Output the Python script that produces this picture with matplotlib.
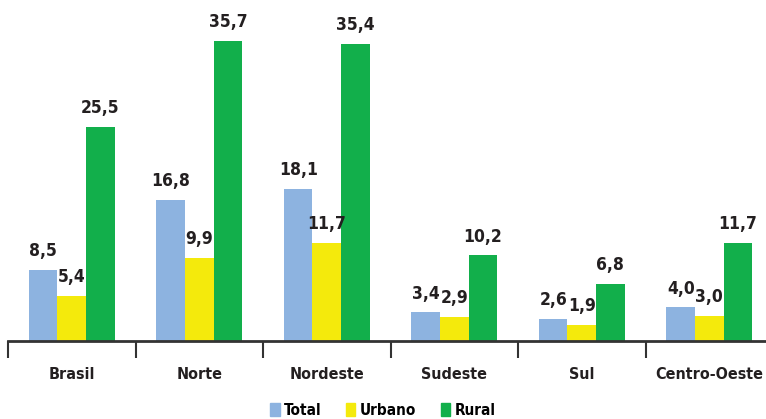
import numpy as np
import matplotlib.pyplot as plt
from matplotlib.patches import Patch

regioes = ["Brasil", "Norte", "Nordeste", "Sudeste", "Sul", "Centro-Oeste"]
total = [8.5, 16.8, 18.1, 3.4, 2.6, 4.0]
urbano = [5.4, 9.9, 11.7, 2.9, 1.9, 3.0]
rural = [25.5, 35.7, 35.4, 10.2, 6.8, 11.7]

series = [("Total", total, "#8DB3E0"),
          ("Urbano", urbano, "#F4EA0C"),
          ("Rural", rural, "#12AF4B")]

plt.rcParams['font.family'] = ['DejaVu Sans']
plt.rcParams['font.stretch'] = 'condensed'
txt = "#231F20"

fig = plt.figure(figsize=(7.66, 4.19), dpi=100)
ax = fig.add_axes([8 / 766, 78 / 419, 758 / 766, 341 / 419])

x = np.arange(len(regioes))
w = 0.224
for i, (nome, vals, cor) in enumerate(series):
    pos = x + (i - 1) * w
    ax.bar(pos, vals, width=w, color=cor, zorder=2)
    for px, v in zip(pos, vals):
        ax.annotate(f"{v:.1f}".replace(".", ","), (px, v), xytext=(0, 7),
                    textcoords="offset points", ha="center", va="bottom",
                    fontsize=12.5, fontweight="bold", fontstretch="condensed",
                    color=txt)

ax.set_xlim(-0.5, 5.445)
ax.set_ylim(0, 40.6)
for s in ["top", "right", "left"]:
    ax.spines[s].set_visible(False)
ax.spines["bottom"].set_color("#333333")
ax.spines["bottom"].set_linewidth(2)
ax.spines["bottom"].set_zorder(3)
ax.set_yticks([])

ax.set_xticks(x)
ax.set_xticklabels(regioes, fontsize=11.5, fontweight="bold",
                   fontstretch="condensed", color=txt)
ax.tick_params(axis="x", which="major", length=0, pad=19)
ax.set_xticks(np.arange(-0.5, len(regioes) - 0.5), minor=True)
ax.tick_params(axis="x", which="minor", length=12, width=1.5, color="#333333")

handles = [Patch(color=c, label=n) for n, _, c in series]
fig.legend(handles=handles, loc="lower center", ncol=3, frameon=False,
           bbox_to_anchor=(0.5, -0.03), handlelength=0.6,
           handleheight=0.9, handletextpad=0.3, columnspacing=1.6,
           prop={"weight": "bold", "size": 11, "stretch": "condensed"})

fig.savefig("out.png", dpi=100)
